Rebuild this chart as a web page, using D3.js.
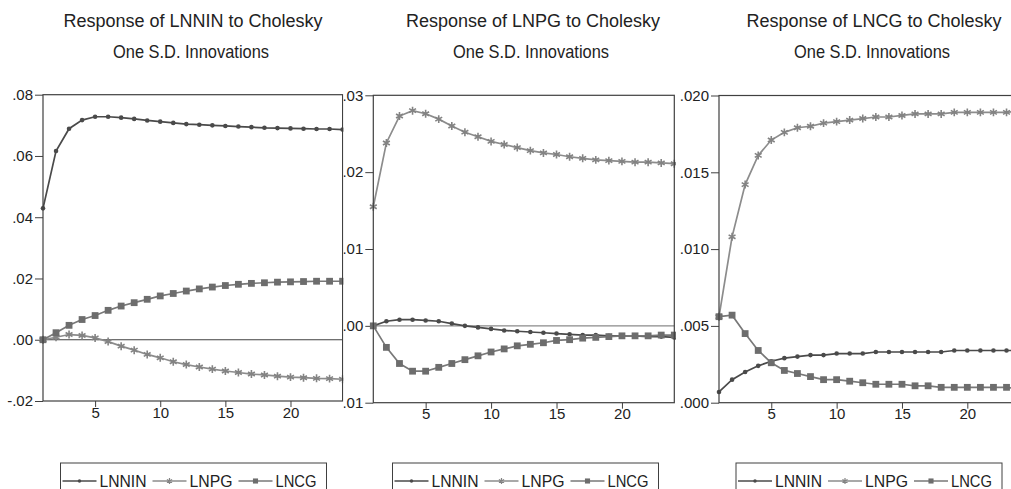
<!DOCTYPE html>
<html>
<head>
<meta charset="utf-8">
<script src="https://cdn.jsdelivr.net/npm/d3@7"></script>
<style>
  html, body { margin: 0; padding: 0; background: #fff; }
  svg { display: block; font-family: "Liberation Sans Narrow", "Arial Narrow", "Liberation Sans", sans-serif; }
</style>
</head>
<body>
<svg id="chart" width="1011" height="489"></svg>
<script>
// periods of the impulse response
const periods = d3.range(1, 25);
const seriesNames = ["LNNIN", "LNPG", "LNCG"];

// Response of LNNIN
const lnninToLnnin = [0.0429, 0.0616, 0.0689, 0.0717, 0.0728, 0.0728, 0.0725, 0.0721, 0.0716, 0.0712, 0.0708, 0.0704,
  0.0702, 0.0700, 0.0698, 0.0696, 0.0694, 0.0692, 0.0691, 0.0690, 0.0689, 0.0688, 0.0688, 0.0686];
const lnninToLnpg = [0.0, 0.0008, 0.0017, 0.0014, 0.0006, -0.0006, -0.0021, -0.0034, -0.0048, -0.0059, -0.0072, -0.0081,
  -0.0089, -0.0096, -0.0102, -0.0107, -0.0112, -0.0115, -0.0119, -0.0122, -0.0124, -0.0126, -0.0127, -0.0129];
const lnninToLncg = [0.0, 0.0023, 0.0047, 0.0066, 0.0079, 0.0096, 0.0110, 0.0121, 0.0132, 0.0143, 0.0151, 0.0159,
  0.0166, 0.0172, 0.0177, 0.0181, 0.0184, 0.0186, 0.0188, 0.0189, 0.0190, 0.0191, 0.0191, 0.0191];

// Response of LNPG
const lnpgToLnnin = [0.0, 0.0006, 0.0008, 0.0008, 0.0007, 0.0006, 0.0003, 0.0, -0.0002, -0.0004, -0.0006, -0.0007,
  -0.0008, -0.0009, -0.0010, -0.0011, -0.0012, -0.0012, -0.0013, -0.0013, -0.0013, -0.0014, -0.0014, -0.0015];
const lnpgToLnpg = [0.0155, 0.0238, 0.0273, 0.0280, 0.0276, 0.0269, 0.0260, 0.0252, 0.0246, 0.0240, 0.0236, 0.0232,
  0.0228, 0.0225, 0.0223, 0.0220, 0.0218, 0.0216, 0.0215, 0.0214, 0.0213, 0.0213, 0.0212, 0.0211];
const lnpgToLncg = [0.0, -0.0028, -0.0049, -0.0059, -0.0059, -0.0054, -0.0049, -0.0044, -0.0039, -0.0034, -0.0030, -0.0026,
  -0.0024, -0.0022, -0.0019, -0.0018, -0.0016, -0.0015, -0.0014, -0.0013, -0.0013, -0.0013, -0.0012, -0.0012];

// Response of LNCG
const lncgToLnnin = [0.0007, 0.0015, 0.0020, 0.0024, 0.0027, 0.0029, 0.0030, 0.0031, 0.0031, 0.0032, 0.0032, 0.0032,
  0.0033, 0.0033, 0.0033, 0.0033, 0.0033, 0.0033, 0.0034, 0.0034, 0.0034, 0.0034, 0.0034, 0.0034];
const lncgToLnpg = [0.0056, 0.0108, 0.0142, 0.0161, 0.0171, 0.0176, 0.0179, 0.0180, 0.0182, 0.0183, 0.0184, 0.0185,
  0.0186, 0.0186, 0.0187, 0.0188, 0.0188, 0.0188, 0.0189, 0.0189, 0.0189, 0.0189, 0.0189, 0.0190];
const lncgToLncg = [0.0056, 0.0057, 0.0045, 0.0034, 0.0026, 0.0021, 0.0019, 0.0017, 0.0015, 0.0015, 0.0014, 0.0013,
  0.0012, 0.0012, 0.0012, 0.0011, 0.0011, 0.0010, 0.0010, 0.0010, 0.0010, 0.0010, 0.0010, 0.0009];

const xTicks = [5, 10, 15, 20];
const yTicks1 = [-0.02, 0.0, 0.02, 0.04, 0.06, 0.08];
const yTicks2 = [-0.01, 0.0, 0.01, 0.02, 0.03];
const yTicks3 = [0.0, 0.005, 0.01, 0.015, 0.02];
const yLabels1 = ["-.02", ".00", ".02", ".04", ".06", ".08"];
const yLabels2 = ["-.01", ".00", ".01", ".02", ".03"];
const yLabels3 = [".000", ".005", ".010", ".015", ".020"];

const styles = {
  LNNIN: { line: "#4a4a4a", mark: "#4a4a4a", symbol: "dot" },
  LNPG: { line: "#8c8c8c", mark: "#838383", symbol: "star" },
  LNCG: { line: "#787878", mark: "#6d6d6d", symbol: "square" }
};

const panels = [
  {
    target: "LNNIN", series: [lnninToLnnin, lnninToLnpg, lnninToLncg],
    yDomain: [-0.02, 0.08], yTicks: yTicks1, yLabels: yLabels1,
    x0: 43, x1: 342.6, y0: 94.7, y1: 401, clip: [0, 343.4],
    titleX: 193, legendX: 193.5, zero: "#404040"
  },
  {
    target: "LNPG", series: [lnpgToLnnin, lnpgToLnpg, lnpgToLncg],
    yDomain: [-0.01, 0.03], yTicks: yTicks2, yLabels: yLabels2,
    x0: 373.3, x1: 674.3, y0: 95.3, y1: 402.7, clip: [343.4, 676],
    titleX: 533, legendX: 525.5, zero: "#8a8a8a"
  },
  {
    target: "LNCG", series: [lncgToLnnin, lncgToLnpg, lncgToLncg],
    yDomain: [0, 0.02], yTicks: yTicks3, yLabels: yLabels3,
    x0: 719, x1: 1019.6, y0: 95.5, y1: 402.7, clip: [676, 1011],
    titleX: 874, legendX: 869, zero: null
  }
];

const svg = d3.select("#chart");
const defs = svg.append("defs");

function drawMarker(g, type, color) {
  if (type === "dot") {
    g.append("circle").attr("r", 2.3).attr("fill", color);
  } else if (type === "square") {
    g.append("rect").attr("x", -3.4).attr("y", -3.4).attr("width", 6.8).attr("height", 6.8).attr("fill", color);
  } else {
    g.append("path").attr("d", d3.symbol(d3.symbolAsterisk, 44)())
      .attr("stroke", color).attr("stroke-width", 1.6).attr("fill", "none");
  }
}

panels.forEach((p, i) => {
  defs.append("clipPath").attr("id", `panel-clip-${i}`)
    .append("rect").attr("x", p.clip[0]).attr("y", 0)
    .attr("width", p.clip[1] - p.clip[0]).attr("height", 489);

  const g = svg.append("g").attr("clip-path", `url(#panel-clip-${i})`);

  const x = d3.scaleLinear().domain([1, 24]).range([p.x0, p.x1]);
  const y = d3.scaleLinear().domain(p.yDomain).range([p.y1, p.y0]);

  // titles
  g.append("text").attr("x", p.titleX).attr("y", 27).attr("text-anchor", "middle")
    .attr("font-size", 18).attr("fill", "#222")
    .text(`Response of ${p.target} to Cholesky`);
  g.append("text").attr("x", p.titleX - 2).attr("y", 58).attr("text-anchor", "middle")
    .attr("font-size", 18.5).attr("fill", "#222")
    .attr("textLength", 156).attr("lengthAdjust", "spacingAndGlyphs")
    .text("One S.D. Innovations");

  // y axis ticks and labels
  const yAxis = g.append("g").attr("transform", `translate(${p.x0},0)`)
    .call(d3.axisLeft(y).tickValues(p.yTicks).tickSize(8).tickPadding(2)
      .tickFormat((d, k) => p.yLabels[k]));
  yAxis.select(".domain").remove();
  yAxis.selectAll(".tick line").attr("stroke", "#404040");
  yAxis.selectAll(".tick text").attr("font-size", 15).attr("fill", "#222");
  yAxis.attr("font-family", null);

  // x axis ticks and labels
  const xAxis = g.append("g").attr("transform", `translate(0,${p.y1})`)
    .call(d3.axisBottom(x).tickValues(xTicks).tickSize(6).tickPadding(0));
  xAxis.select(".domain").remove();
  xAxis.selectAll(".tick line").attr("stroke", "#404040");
  xAxis.selectAll(".tick text").attr("font-size", 15).attr("fill", "#222");
  xAxis.attr("font-family", null);

  // zero line
  if (p.zero) {
    g.append("line").attr("x1", p.x0).attr("x2", p.x1)
      .attr("y1", y(0)).attr("y2", y(0))
      .attr("stroke", p.zero).attr("stroke-width", 1.1);
  }

  // series
  const line = d3.line().x((d, k) => x(periods[k])).y(d => y(d));
  p.series.forEach((vals, s) => {
    const st = styles[seriesNames[s]];
    g.append("path").attr("d", line(vals)).attr("fill", "none")
      .attr("stroke", st.line).attr("stroke-width", 1.7);
    vals.forEach((v, k) => {
      const m = g.append("g").attr("transform", `translate(${x(periods[k])},${y(v)})`);
      drawMarker(m, st.symbol, st.mark);
    });
  });

  // frame
  g.append("rect").attr("x", p.x0).attr("y", p.y0)
    .attr("width", p.x1 - p.x0).attr("height", p.y1 - p.y0)
    .attr("fill", "none").attr("stroke", "#404040").attr("stroke-width", 1.2);

  // legend
  const lw = 266;
  const lx = p.legendX - lw / 2;
  const lg = g.append("g");
  lg.append("rect").attr("x", lx).attr("y", 463).attr("width", lw).attr("height", 40)
    .attr("fill", "#fff").attr("stroke", "#404040").attr("stroke-width", 1);
  const itemOffsets = [2, 92, 178];
  const labelWidths = [47, 43, 41];
  seriesNames.forEach((name, s) => {
    const st = styles[name];
    const ix = lx + itemOffsets[s];
    lg.append("line").attr("x1", ix).attr("x2", ix + 34).attr("y1", 481).attr("y2", 481)
      .attr("stroke", st.line).attr("stroke-width", 1.6);
    const m = lg.append("g").attr("transform", `translate(${ix + 17},481) scale(0.75)`);
    drawMarker(m, st.symbol, st.mark);
    lg.append("text").attr("x", ix + 37).attr("y", 487).attr("font-size", 16.5)
      .attr("fill", "#222").attr("textLength", labelWidths[s]).attr("lengthAdjust", "spacingAndGlyphs")
      .text(name);
  });
});
</script>
</body>
</html>
